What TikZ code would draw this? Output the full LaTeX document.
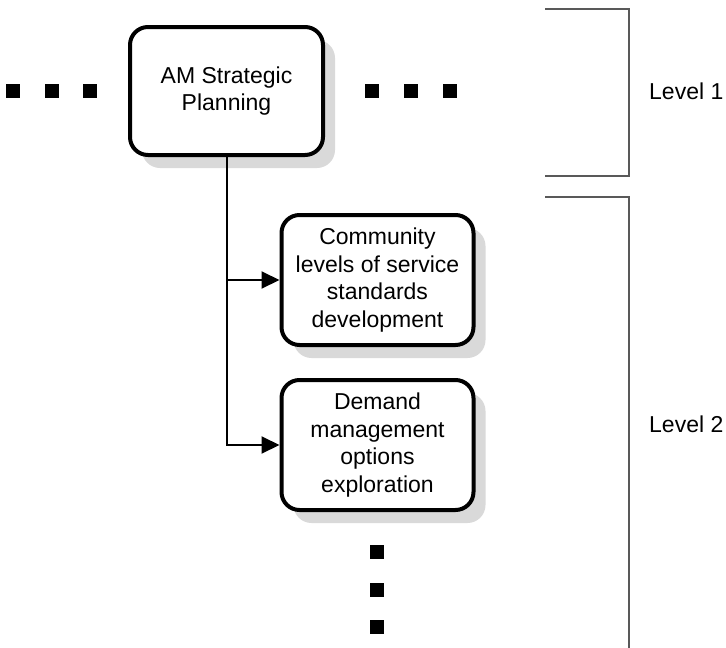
\documentclass[tikz,border=0pt]{standalone}
\usepackage{fontspec}
\setmainfont{Liberation Sans}
\usepackage{tikz}
\usetikzlibrary{arrows.meta}
\usetikzlibrary{shadows}

\begin{document}
\begin{tikzpicture}[
        x=1pt, y=-1pt, % Un punto por pixel, eje y hacia abajo
        font=\fontsize{23}{27.5}\selectfont, % Texto de las cajas y niveles
        task/.style={draw, line width=4pt, rounded corners=18pt, fill=white,
        align=center, inner sep=0pt,
        drop shadow={shadow xshift=12pt, shadow yshift=-13pt, fill=black!15, opacity=1}}, % Cajas de actividades
        link/.style={line width=2pt, -{Triangle[length=18pt, width=17pt]}}, % Conectores
        dot/.style={fill=black, inner sep=0pt, minimum size=14pt}, % Puntos suspensivos
        bracket/.style={line width=2pt, black!65}, % Corchetes de nivel
    ]
        \useasboundingbox (0,0) rectangle (726,648);

        % --- Caja de nivel 1 ---
        \node[task, minimum width=193pt, minimum height=128pt] (plan) at (226.5,91)
            {AM Strategic\\Planning};

        % --- Cajas de nivel 2 ---
        \node[task, minimum width=192pt, minimum height=130pt] (los) at (377.5,280)
            {Community\\levels of service\\standards\\development};
        \node[task, minimum width=192pt, minimum height=130pt] (dem) at (377.5,445)
            {Demand\\management\\options\\exploration};

        % --- Conectores ---
        \draw[link] (plan.south) |- (los.west);
        \draw[link] (plan.south) |- (dem.west);

        % --- Puntos suspensivos ---
        \foreach \i/\x in {1/13, 2/52, 3/90}
            \node[dot] (left\i) at (\x,91) {};
        \foreach \i/\x in {1/372, 2/411, 3/450}
            \node[dot] (right\i) at (\x,91) {};
        \foreach \i/\y in {1/552, 2/590, 3/627}
            \node[dot] (down\i) at (377,\y) {};

        % --- Corchetes y etiquetas de nivel ---
        \draw[bracket] (545,9) -| (629,176) -- (545,176);
        \draw[bracket] (545,197) -| (629,648);
        \node[anchor=west, inner sep=0pt] (lev1) at (649,91) {Level 1};
        \node[anchor=west, inner sep=0pt] (lev2) at (649,424) {Level 2};

    \end{tikzpicture}
\end{document}
